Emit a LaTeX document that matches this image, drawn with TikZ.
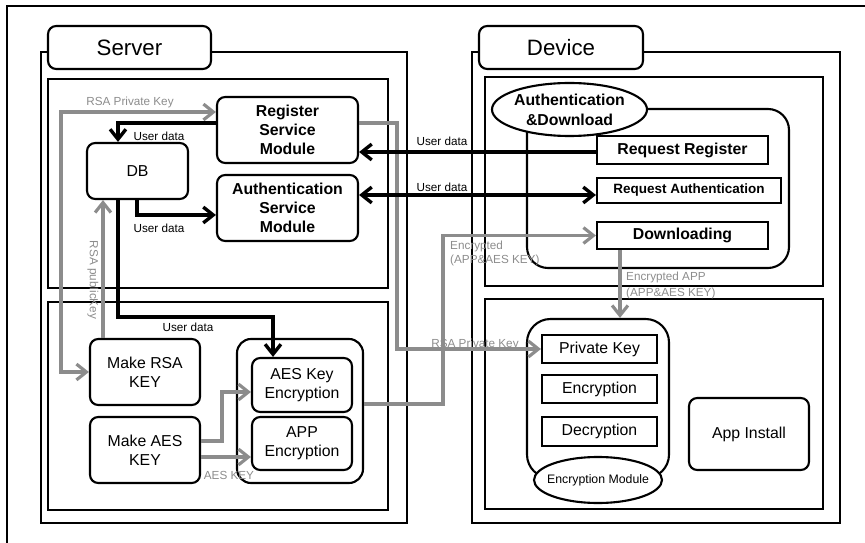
\documentclass[tikz,border=0pt]{standalone}
\usepackage{fontspec}
\setmainfont{Liberation Sans}
\usetikzlibrary{arrows.meta,shapes.geometric}
\definecolor{keygray}{RGB}{140,140,140}

\begin{document}
\begin{tikzpicture}[x=0.03cm,y=-0.03cm,
        >={Straight Barb[length=8.5pt,width=13.5pt]},
        framebox/.style={draw,line width=2pt},
        titletab/.style={draw,fill=white,line width=1.8pt,rounded corners=7pt,inner sep=0pt,font=\fontsize{19}{22}\selectfont},
        module/.style={draw,fill=white,line width=1.8pt,rounded corners=7pt,align=center,inner sep=0pt,font=\fontsize{13.5}{16.5}\selectfont},
        boldmodule/.style={module,font=\fontsize{13.5}{16.5}\selectfont\bfseries},
        grpbox/.style={draw,line width=1.8pt,inner sep=0pt},
        slot/.style={draw,fill=white,line width=1.8pt,inner sep=0pt,font=\fontsize{13.5}{16}\selectfont},
        request/.style={slot,font=\fontsize{13.5}{16}\selectfont\bfseries},
        oval/.style={ellipse,draw,fill=white,line width=1.8pt,inner sep=0pt,align=center},
        userdata/.style={line width=2.9pt},
        keyline/.style={keygray,line width=2.7pt},
        datalabel/.style={inner sep=0pt,font=\fontsize{10}{12}\selectfont},
        keylabel/.style={inner sep=0pt,text=keygray,align=left,font=\fontsize{10}{11.5}\selectfont}]
        \useasboundingbox (0,0) rectangle (865,543);
        % frames
        \draw[line width=1.2pt] (7,543) -- (7,6) -- (865,6);
        \draw[framebox] (41,52) rectangle (407,523);
        \draw[framebox] (48,79) rectangle (388,288);
        \draw[framebox] (48,302) rectangle (388,510);
        \draw[framebox] (472,52) rectangle (840,523);
        \draw[framebox] (485,77) rectangle (823,286);
        \draw[framebox] (485,299) rectangle (823,509);
        \node[titletab,minimum width=4.89cm,minimum height=1.29cm] (server) at (129.5,47.5) {Server};
        \node[titletab,minimum width=4.92cm,minimum height=1.29cm] (device) at (561,47.5) {Device};

        % server side
        \node[boldmodule,minimum width=4.23cm,minimum height=1.98cm] (reg) at (287.5,130) {Register\\Service\\Module};
        \node[module,minimum width=3.03cm,minimum height=1.68cm] (db) at (137.5,171) {DB};
        \node[boldmodule,minimum width=4.23cm,minimum height=1.98cm] (auth) at (287.5,208) {Authentication\\Service\\Module};
        \node[module,minimum width=3.3cm,minimum height=1.98cm] (mkrsa) at (145,372) {Make RSA\\KEY};
        \node[module,minimum width=3.3cm,minimum height=1.98cm] (mkaes) at (145,450) {Make AES\\KEY};
        \node[grpbox,rounded corners=12pt,minimum width=3.78cm,minimum height=4.32cm] (aesgrp) at (300,411) {};
        \node[module,minimum width=3cm,minimum height=1.62cm] (aeskey) at (302,385) {AES Key\\Encryption};
        \node[module,minimum width=3cm,minimum height=1.59cm] (appenc) at (302,443.5) {APP\\Encryption};

        % device side
        \node[grpbox,rounded corners=18pt,minimum width=7.86cm,minimum height=4.77cm] (adgrp) at (658,188.5) {};
        \node[oval,minimum width=4.65cm,minimum height=1.59cm,inner xsep=-6pt,font=\fontsize{13.5}{17}\selectfont\bfseries] (adell) at (569.5,109.5) {Authentication\\\&Download};
        \node[request,minimum width=5.13cm,minimum height=0.84cm] (rqreg) at (682.5,150) {Request Register};
        \node[request,minimum width=5.52cm,minimum height=0.75cm,font=\fontsize{11.5}{14}\selectfont\bfseries] (rqauth) at (689,190.5) {Request Authentication};
        \node[request,minimum width=5.13cm,minimum height=0.81cm] (dl) at (682.5,235.5) {Downloading};
        \node[grpbox,rounded corners=20pt,minimum width=4.26cm,minimum height=4.77cm] (encgrp) at (598,398.5) {};
        \node[slot,minimum width=3.45cm,minimum height=0.84cm] (pk) at (599.5,349) {Private Key};
        \node[slot,minimum width=3.45cm,minimum height=0.84cm] (enc) at (599.5,389) {Encryption};
        \node[slot,minimum width=3.45cm,minimum height=0.87cm] (dec) at (599.5,431.5) {Decryption};
        \node[oval,minimum width=3.84cm,minimum height=1.38cm,inner xsep=-8pt,font=\fontsize{10.5}{12}\selectfont] (encell) at (598,480) {Encryption Module};
        \node[module,minimum width=3.6cm,minimum height=2.16cm] (appinst) at (749,434) {App Install};

        % key transfers
        \draw[keyline,<->] (mkrsa.west) -| (61,112) -- (reg.west |- 61,112);
        \draw[keyline,->] (mkrsa.north -| 103,0) -- (db.south -| 103,0);
        \draw[keyline,->] (mkaes.east |- 0,441) -| (222,392) -- (aeskey.west |- 0,392);
        \draw[keyline,->] (mkaes.east |- 0,457) -- (appenc.west |- 0,457);
        \draw[keyline,->] (aesgrp.east |- 0,404) -| (443,235.5) -- (dl.west);
        \draw[keyline,->] (reg.east |- 0,123) -| (397,349) -- (pk.west);
        \draw[keyline,->] (dl.south -| 620,0) -- (encgrp.north -| 620,0);

        % user data
        \draw[userdata,->] (reg.west |- 0,123) -| (db.north -| 118,0);
        \draw[userdata,->] (db.south -| 137,0) |- (auth.west |- 0,215);
        \draw[userdata,->] (db.south -| 118,0) |- (273,317) -- (aeskey.north -| 273,0);
        \draw[userdata,->] (rqreg.west |- 0,152) -- (reg.east |- 0,152);
        \draw[userdata,<->] (auth.east |- 0,195) -- (rqauth.west |- 0,195);

        % labels
        \node[keylabel] (lrsapriv) at (130,102) {RSA Private Key};
        \node[keylabel,rotate=-90] (lrsapub) at (93,280) {RSA publicKey};
        \node[keylabel] (laes) at (229,475) {AES KEY};
        \node[keylabel,anchor=west] (lencdl) at (450,253.5) {Encrypted\\(APP\&AES KEY)};
        \node[keylabel] (lrsapk) at (475,344) {RSA Private Key};
        \node[keylabel,anchor=west,font=\fontsize{10}{13}\selectfont] (lencapp) at (626,285.5) {Encrypted APP\\(APP\&AES KEY)};
        \node[datalabel] (ldreg) at (159,136) {User data};
        \node[datalabel] (ldauth) at (159,228) {User data};
        \node[datalabel] (ldaes) at (188,327) {User data};
        \node[datalabel] (ldrq) at (442,141) {User data};
        \node[datalabel] (ldra) at (442,187) {User data};
\end{tikzpicture}
\end{document}
